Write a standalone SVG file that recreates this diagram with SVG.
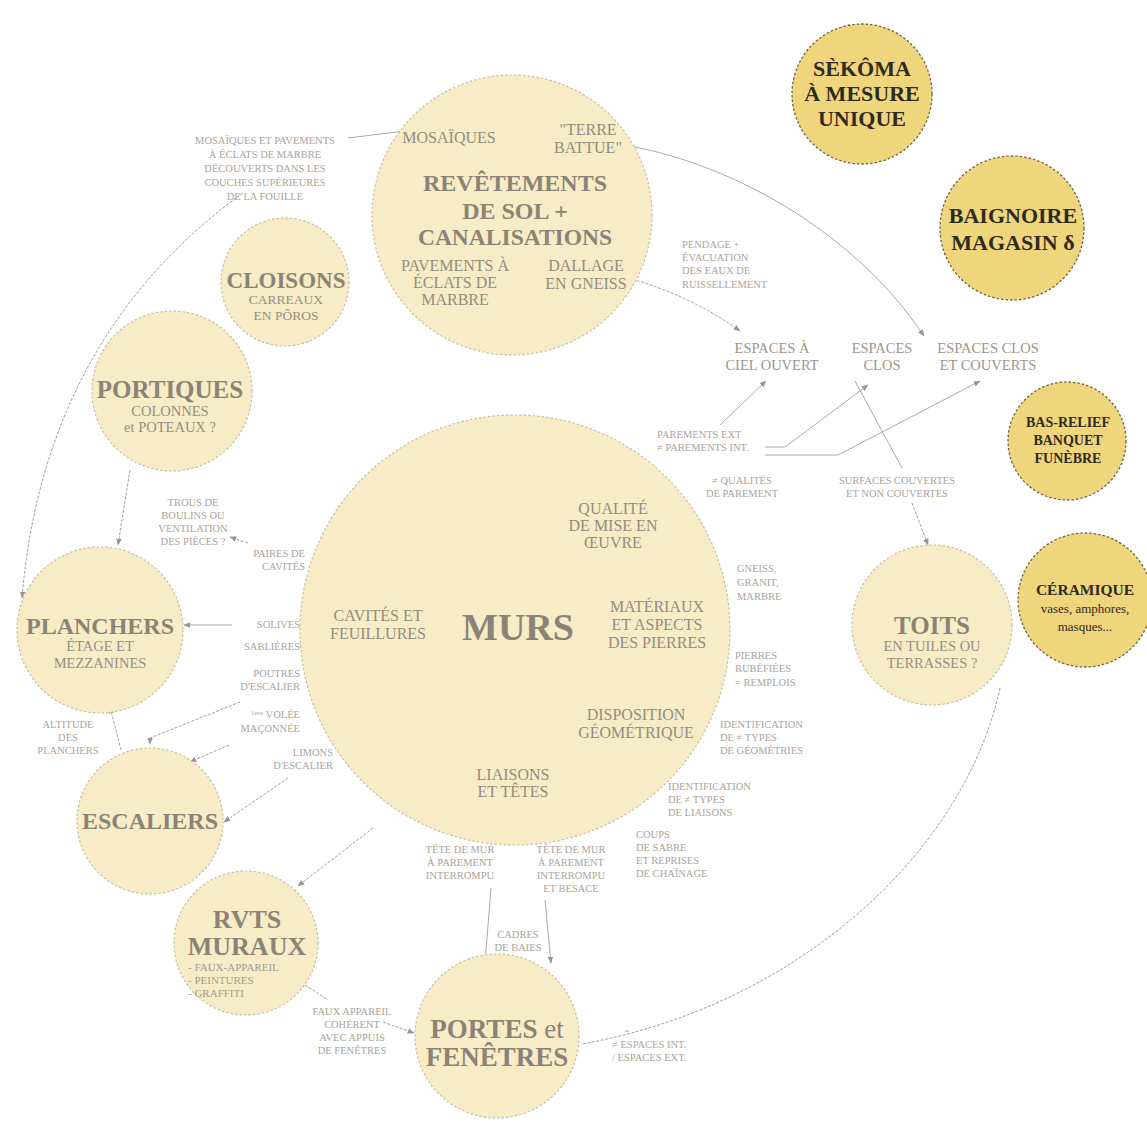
<svg xmlns="http://www.w3.org/2000/svg" width="1147" height="1129" viewBox="0 0 1147 1129">
<style>
.c{fill:#f7ecc6;stroke:#c9bfa4;stroke-width:1.2;stroke-dasharray:2.5,2}
.cy{fill:#efd57b;stroke:#6d6345;stroke-width:1.3;stroke-dasharray:2.5,2}
text{font-family:"Liberation Serif","DejaVu Serif",serif;text-anchor:middle}
.tn{font-size:25px;font-weight:bold;fill:#8a8376}
.ts{font-size:14.5px;fill:#968f83}
.tm{font-size:16px;fill:#938c80}
.tl{font-size:10.5px;fill:#aaa59c}
.te{font-size:14.5px;fill:#9c968c}
.td{font-weight:bold;fill:#2e2a1e}
.l{text-anchor:start}
.r{text-anchor:end}
.ln{fill:none;stroke:#a3a09a;stroke-width:1;stroke-dasharray:3,1.5}
.ls{fill:none;stroke:#a3a09a;stroke-width:0.9}
</style>
<defs>
<marker id="ar" viewBox="0 0 10 10" refX="9" refY="5" markerWidth="7" markerHeight="7" orient="auto" markerUnits="userSpaceOnUse">
<path d="M0,1 L10,5 L0,9 Z" fill="#9a968f"/>
</marker>
</defs>
<rect width="1147" height="1129" fill="#ffffff"/>

<g id="connectors">
<path class="ls" d="M348,138 L413,130"/>
<path class="ln" d="M243,193 C150,260 40,380 22,598" marker-end="url(#ar)"/>
<path class="ls" d="M623,145 C720,160 850,225 924,336" marker-end="url(#ar)"/>
<path class="ln" d="M628,278 Q690,295 740,331" marker-end="url(#ar)"/>
<path class="ls" d="M720,425 L766,381" marker-end="url(#ar)"/>
<path class="ls" d="M765,447 L785,447 L868,385" marker-end="url(#ar)"/>
<path class="ls" d="M765,455 L838,455 L980,381" marker-end="url(#ar)"/>
<path class="ls" d="M855,381 L902,468"/>
<path class="ln" d="M912,503 L928,545" marker-end="url(#ar)"/>
<path class="ln" d="M1000,688 C965,850 800,1005 582,1044"/>
<path class="ln" d="M248,543 L230,537" marker-end="url(#ar)"/>
<path class="ls" d="M232,625 L184,625" marker-end="url(#ar)"/>
<path class="ln" d="M130,470 L118,545" marker-end="url(#ar)"/>
<path class="ln" d="M240,702 L150,738 L150,744" marker-end="url(#ar)"/>
<path class="ln" d="M229,745 L190,762" marker-end="url(#ar)"/>
<path class="ln" d="M288,778 L224,822" marker-end="url(#ar)"/>
<path class="ln" d="M121,750 L110,707" marker-end="url(#ar)"/>
<path class="ln" d="M373,828 L298,886" marker-end="url(#ar)"/>
<path class="ln" d="M305,985 L328,1000"/>
<path class="ln" d="M383,1022 L414,1033" marker-end="url(#ar)"/>
<path class="ls" d="M491,888 L485,963" marker-end="url(#ar)"/>
<path class="ls" d="M545,900 L551,963" marker-end="url(#ar)"/>
</g>

<g id="n-revetements">
<circle class="c" cx="512" cy="215" r="140"/>
<text class="tm" x="449" y="143">MOSAÏQUES</text>
<text class="tm" x="588" y="135">"TERRE</text>
<text class="tm" x="588" y="153">BATTUE"</text>
<text class="tn" x="515" y="191" style="font-size:24px">REVÊTEMENTS</text>
<text class="tn" x="515" y="219" style="font-size:24px">DE SOL +</text>
<text class="tn" x="515" y="245" style="font-size:23.5px">CANALISATIONS</text>
<text class="tm" x="455" y="271">PAVEMENTS À</text>
<text class="tm" x="455" y="288">ÉCLATS DE</text>
<text class="tm" x="455" y="305">MARBRE</text>
<text class="tm" x="586" y="271">DALLAGE</text>
<text class="tm" x="586" y="289">EN GNEISS</text>
</g>

<g id="n-cloisons">
<circle class="c" cx="285" cy="282" r="64"/>
<text class="tn" x="286" y="288" style="font-size:23px">CLOISONS</text>
<text class="ts" x="286" y="304" style="font-size:13.5px">CARREAUX</text>
<text class="ts" x="286" y="320" style="font-size:13.5px">EN PÔROS</text>
</g>

<g id="n-portiques">
<circle class="c" cx="172" cy="391" r="80"/>
<text class="tn" x="170" y="398">PORTIQUES</text>
<text class="ts" x="170" y="416">COLONNES</text>
<text class="ts" x="170" y="432">et POTEAUX ?</text>
</g>

<g id="n-planchers">
<circle class="c" cx="100" cy="630" r="83"/>
<text class="tn" x="100" y="634" style="font-size:24px">PLANCHERS</text>
<text class="ts" x="100" y="651">ÉTAGE ET</text>
<text class="ts" x="100" y="668">MEZZANINES</text>
</g>

<g id="n-escaliers">
<circle class="c" cx="150" cy="821" r="73"/>
<text class="tn" x="150" y="829" style="font-size:24px">ESCALIERS</text>
</g>

<g id="n-rvts">
<circle class="c" cx="246" cy="943" r="72"/>
<text class="tn" x="247" y="928" style="font-size:26px">RVTS</text>
<text class="tn" x="247" y="955" style="font-size:26px">MURAUX</text>
<text class="tl l" x="188" y="971" style="font-size:11px;fill:#a29c91">- FAUX-APPAREIL</text>
<text class="tl l" x="188" y="984" style="font-size:11px;fill:#a29c91">- PEINTURES</text>
<text class="tl l" x="188" y="997" style="font-size:11px;fill:#a29c91">- GRAFFITI</text>
</g>

<g id="n-portes">
<circle class="c" cx="497" cy="1036" r="82"/>
<text class="tn" x="497" y="1038" style="font-size:27px">PORTES <tspan style="font-weight:normal">et</tspan></text>
<text class="tn" x="497" y="1066" style="font-size:27px">FENÊTRES</text>
</g>

<g id="n-murs">
<circle class="c" cx="515" cy="630" r="215"/>
<text class="tn" x="518" y="640" style="font-size:38px">MURS</text>
<text class="tm" x="613" y="514">QUALITÉ</text>
<text class="tm" x="613" y="531">DE MISE EN</text>
<text class="tm" x="613" y="548">ŒUVRE</text>
<text class="tm" x="657" y="612">MATÉRIAUX</text>
<text class="tm" x="657" y="630">ET ASPECTS</text>
<text class="tm" x="657" y="648">DES PIERRES</text>
<text class="tm" x="636" y="720">DISPOSITION</text>
<text class="tm" x="636" y="738">GÉOMÉTRIQUE</text>
<text class="tm" x="513" y="780">LIAISONS</text>
<text class="tm" x="513" y="797">ET TÊTES</text>
<text class="tm" x="378" y="621">CAVITÉS ET</text>
<text class="tm" x="378" y="639">FEUILLURES</text>
</g>

<g id="n-toits">
<circle class="c" cx="932" cy="625" r="80"/>
<text class="tn" x="932" y="634">TOITS</text>
<text class="ts" x="932" y="651">EN TUILES OU</text>
<text class="ts" x="932" y="668">TERRASSES ?</text>
</g>

<g id="n-sekoma">
<circle class="cy" cx="862" cy="94" r="70"/>
<text class="td" x="862" y="76" style="font-size:22px">SÈKÔMA</text>
<text class="td" x="862" y="101" style="font-size:22px">À MESURE</text>
<text class="td" x="862" y="126" style="font-size:22px">UNIQUE</text>
</g>

<g id="n-baignoire">
<circle class="cy" cx="1012" cy="228" r="72"/>
<text class="td" x="1013" y="223" style="font-size:22px">BAIGNOIRE</text>
<text class="td" x="1013" y="250" style="font-size:22px">MAGASIN δ</text>
</g>

<g id="n-basrelief">
<circle class="cy" cx="1067" cy="441" r="59"/>
<text class="td" x="1068" y="427" style="font-size:14px">BAS-RELIEF</text>
<text class="td" x="1068" y="445" style="font-size:14px">BANQUET</text>
<text class="td" x="1068" y="463" style="font-size:14px">FUNÈBRE</text>
</g>

<g id="n-ceramique">
<circle class="cy" cx="1085" cy="600" r="67"/>
<text class="td" x="1085" y="595" style="font-size:15.5px">CÉRAMIQUE</text>
<text x="1085" y="613" style="font-size:13px;fill:#2e2a1e">vases, amphores,</text>
<text x="1085" y="631" style="font-size:13px;fill:#2e2a1e">masques...</text>
</g>

<g id="edge-labels">
<text class="tl" x="265" y="144">MOSAÏQUES ET PAVEMENTS</text>
<text class="tl" x="265" y="158">À ÉCLATS DE MARBRE</text>
<text class="tl" x="265" y="172">DÉCOUVERTS DANS LES</text>
<text class="tl" x="265" y="186">COUCHES SUPÉRIEURES</text>
<text class="tl" x="265" y="200">DE LA FOUILLE</text>

<text class="tl l" x="682" y="248">PENDAGE +</text>
<text class="tl l" x="682" y="261">ÉVACUATION</text>
<text class="tl l" x="682" y="274">DES EAUX DE</text>
<text class="tl l" x="682" y="288">RUISSELLEMENT</text>

<text class="te" x="772" y="353">ESPACES À</text>
<text class="te" x="772" y="370">CIEL OUVERT</text>
<text class="te" x="882" y="353">ESPACES</text>
<text class="te" x="882" y="370">CLOS</text>
<text class="te" x="988" y="353">ESPACES CLOS</text>
<text class="te" x="988" y="370">ET COUVERTS</text>

<text class="tl l" x="657" y="438">PAREMENTS EXT</text>
<text class="tl l" x="657" y="451">≠ PAREMENTS INT.</text>
<text class="tl" x="742" y="484">≠ QUALITÉS</text>
<text class="tl" x="742" y="497">DE PAREMENT</text>
<text class="tl" x="897" y="484">SURFACES COUVERTES</text>
<text class="tl" x="897" y="497">ET NON COUVERTES</text>

<text class="tl l" x="737" y="572">GNEISS,</text>
<text class="tl l" x="737" y="586">GRANIT,</text>
<text class="tl l" x="737" y="600">MARBRE</text>
<text class="tl l" x="735" y="659">PIERRES</text>
<text class="tl l" x="735" y="672">RUBÉFIÉES</text>
<text class="tl l" x="735" y="686">= REMPLOIS</text>
<text class="tl l" x="720" y="728">IDENTIFICATION</text>
<text class="tl l" x="720" y="741">DE ≠ TYPES</text>
<text class="tl l" x="720" y="754">DE GÉOMÉTRIES</text>
<text class="tl l" x="668" y="790">IDENTIFICATION</text>
<text class="tl l" x="668" y="803">DE ≠ TYPES</text>
<text class="tl l" x="668" y="816">DE LIAISONS</text>
<text class="tl l" x="636" y="838">COUPS</text>
<text class="tl l" x="636" y="851">DE SABRE</text>
<text class="tl l" x="636" y="864">ET REPRISES</text>
<text class="tl l" x="636" y="877">DE CHAÎNAGE</text>

<text class="tl" x="460" y="853">TÊTE DE MUR</text>
<text class="tl" x="460" y="866">À PAREMENT</text>
<text class="tl" x="460" y="879">INTERROMPU</text>
<text class="tl" x="571" y="853">TÊTE DE MUR</text>
<text class="tl" x="571" y="866">À PAREMENT</text>
<text class="tl" x="571" y="879">INTERROMPU</text>
<text class="tl" x="571" y="892">ET BESACE</text>
<text class="tl" x="518" y="938">CADRES</text>
<text class="tl" x="518" y="951">DE BAIES</text>

<text class="tl" x="352" y="1015">FAUX APPAREIL</text>
<text class="tl" x="352" y="1028">COHÉRENT</text>
<text class="tl" x="352" y="1041">AVEC APPUIS</text>
<text class="tl" x="352" y="1054">DE FENÊTRES</text>

<text class="tl" x="627" y="1034" style="font-size:8px">=</text>
<text class="tl l" x="612" y="1048">≠ ESPACES INT.</text>
<text class="tl l" x="612" y="1061">/ ESPACES EXT.</text>

<text class="tl" x="193" y="506">TROUS DE</text>
<text class="tl" x="193" y="519">BOULINS OU</text>
<text class="tl" x="193" y="532">VENTILATION</text>
<text class="tl" x="193" y="545">DES PIÈCES ?</text>
<text class="tl r" x="305" y="557">PAIRES DE</text>
<text class="tl r" x="305" y="570">CAVITÉS</text>
<text class="tl r" x="300" y="628">SOLIVES</text>
<text class="tl r" x="300" y="650">SABLIÈRES</text>
<text class="tl r" x="300" y="677">POUTRES</text>
<text class="tl r" x="300" y="690">D'ESCALIER</text>
<text class="tl r" x="300" y="718"><tspan style="font-size:7px" dy="-3">1ère</tspan><tspan dy="3"> VOLÉE</tspan></text>
<text class="tl r" x="300" y="732">MAÇONNÉE</text>
<text class="tl r" x="333" y="756">LIMONS</text>
<text class="tl r" x="333" y="769">D'ESCALIER</text>
<text class="tl" x="68" y="728">ALTITUDE</text>
<text class="tl" x="68" y="741">DES</text>
<text class="tl" x="68" y="754">PLANCHERS</text>
</g>
</svg>
